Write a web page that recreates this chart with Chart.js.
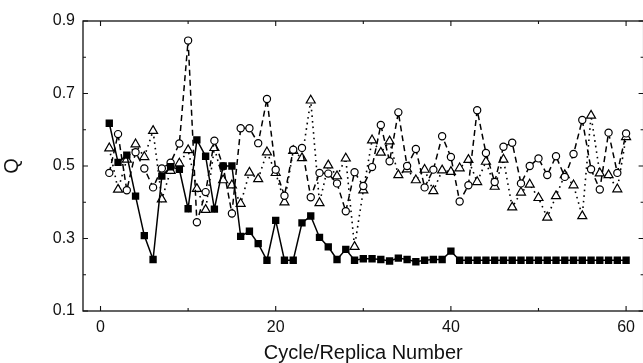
<!DOCTYPE html>
<html>
<head>
<meta charset="utf-8">
<script src="https://cdn.jsdelivr.net/npm/chart.js@4/dist/chart.umd.min.js"></script>
<style>
  html, body { margin: 0; padding: 0; background: #fff; overflow: hidden; }
  #wrap { width: 650px; height: 363px; }
</style>
</head>
<body>
<div id="wrap"><canvas id="Grafico" width="650" height="363"></canvas></div>
<script>
//Numero de ciclo / replica
const ciclos = [1, 2, 3, 4, 5, 6, 7, 8, 9, 10, 11, 12, 13, 14, 15, 16, 17, 18, 19, 20,
  21, 22, 23, 24, 25, 26, 27, 28, 29, 30, 31, 32, 33, 34, 35, 36, 37, 38, 39, 40,
  41, 42, 43, 44, 45, 46, 47, 48, 49, 50, 51, 52, 53, 54, 55, 56, 57, 58, 59, 60];

//Cuadrados rellenos (linea continua)
const qCuadrados = [0.618, 0.510, 0.530, 0.417, 0.308, 0.242, 0.472, 0.498, 0.491, 0.382,
  0.572, 0.527, 0.381, 0.500, 0.500, 0.306, 0.320, 0.286, 0.240, 0.350,
  0.240, 0.240, 0.343, 0.362, 0.303, 0.277, 0.242, 0.270, 0.240, 0.244,
  0.244, 0.242, 0.238, 0.246, 0.242, 0.236, 0.240, 0.242, 0.242, 0.265,
  0.240, 0.240, 0.240, 0.240, 0.240, 0.240, 0.240, 0.240, 0.240, 0.240,
  0.240, 0.240, 0.240, 0.240, 0.240, 0.240, 0.240, 0.240, 0.240, 0.240];

//Circulos abiertos (linea discontinua)
const qCirculos = [0.481, 0.588, 0.433, 0.538, 0.493, 0.441, 0.493, 0.509, 0.562, 0.846,
  0.345, 0.428, 0.570, 0.499, 0.369, 0.604, 0.604, 0.563, 0.685, 0.490,
  0.418, 0.545, 0.550, 0.414, 0.481, 0.479, 0.452, 0.375, 0.483, 0.445,
  0.497, 0.613, 0.513, 0.648, 0.500, 0.547, 0.441, 0.490, 0.582, 0.525,
  0.402, 0.447, 0.654, 0.536, 0.456, 0.553, 0.564, 0.452, 0.500, 0.521,
  0.475, 0.527, 0.470, 0.533, 0.627, 0.491, 0.435, 0.592, 0.481, 0.590];

//Triangulos abiertos (linea de puntos)
const qTriangulos = [0.549, 0.435, 0.518, 0.560, 0.525, 0.597, 0.408, 0.487, 0.507, 0.544,
  0.437, 0.379, 0.550, 0.461, 0.447, 0.396, 0.482, 0.464, 0.538, 0.481,
  0.400, 0.542, 0.522, 0.681, 0.398, 0.502, 0.472, 0.521, 0.277, 0.433,
  0.571, 0.537, 0.568, 0.475, 0.491, 0.461, 0.490, 0.431, 0.488, 0.484,
  0.494, 0.517, 0.456, 0.512, 0.443, 0.518, 0.386, 0.427, 0.449, 0.412,
  0.358, 0.417, 0.475, 0.447, 0.362, 0.639, 0.480, 0.475, 0.436, 0.580];

//Etiquetas de los ejes
const xEtiquetas = [0, 20, 40, 60];
const yEtiquetas = [0.1, 0.3, 0.5, 0.7, 0.9];

function puntos(valores) {
  return ciclos.map((c, i) => ({ x: c, y: valores[i] }));
}

//Marco con marcas hacia dentro en los cuatro lados
const marco = {
  id: 'marco',
  afterDraw(chart) {
    const { ctx, chartArea: a, scales } = chart;
    ctx.save();
    ctx.strokeStyle = '#111';
    ctx.lineWidth = 1.3;
    ctx.strokeRect(a.left, a.top, a.right - a.left, a.bottom - a.top);
    ctx.lineWidth = 1.1;
    ctx.beginPath();
    for (let v = 0; v <= 60; v += 10) {
      const px = scales.x.getPixelForValue(v);
      const len = v % 20 === 0 ? 5 : 3;
      ctx.moveTo(px, a.bottom); ctx.lineTo(px, a.bottom - len);
      ctx.moveTo(px, a.top); ctx.lineTo(px, a.top + len);
    }
    for (let k = 1; k <= 9; k++) {
      const py = scales.y.getPixelForValue(k / 10);
      const len = k % 2 === 1 ? 5 : 3;
      ctx.moveTo(a.left, py); ctx.lineTo(a.left + len, py);
      ctx.moveTo(a.right, py); ctx.lineTo(a.right - len, py);
    }
    ctx.stroke();
    ctx.restore();
  }
};

const contexto = document.getElementById('Grafico').getContext('2d');
const Grafico = new Chart(contexto, {
  type: 'line',
  data: {
    datasets: [{
      label: 'cuadrados',
      data: puntos(qCuadrados),
      borderColor: '#000',
      borderWidth: 1.5,
      pointStyle: 'rect',
      pointRadius: 5.2,
      pointBackgroundColor: '#000',
      pointBorderColor: '#000',
      pointBorderWidth: 0
    }, {
      label: 'circulos',
      data: puntos(qCirculos),
      borderColor: '#000',
      borderWidth: 1.5,
      borderDash: [6, 4],
      pointStyle: 'circle',
      pointRadius: 3.6,
      pointBackgroundColor: '#fff',
      pointBorderColor: '#000',
      pointBorderWidth: 1.2
    }, {
      label: 'triangulos',
      data: puntos(qTriangulos),
      borderColor: '#000',
      borderWidth: 1.6,
      borderDash: [1.6, 4],
      pointStyle: 'triangle',
      pointRadius: 5.2,
      pointBackgroundColor: '#fff',
      pointBorderColor: '#000',
      pointBorderWidth: 1.2
    }]
  },
  options: {
    responsive: false,
    animation: false,
    layout: { padding: { left: 0, right: 4, top: 21, bottom: 0 } },
    plugins: { legend: { display: false }, tooltip: { enabled: false } },
    elements: { line: { tension: 0 } },
    scales: {
      x: {
        type: 'linear',
        min: -2,
        max: 62,
        grid: { display: false, drawTicks: false },
        border: { display: false },
        afterFit: s => { s.height = 52; },
        afterBuildTicks: s => { s.ticks = xEtiquetas.map(v => ({ value: v })); },
        ticks: {
          padding: 7,
          color: '#111',
          font: { family: 'Liberation Sans, Arial, sans-serif', size: 16 },
          maxRotation: 0,
          callback: v => String(v)
        },
        title: {
          display: true,
          text: 'Cycle/Replica Number',
          color: '#111',
          padding: { top: 0, bottom: 0 },
          font: { family: 'Liberation Sans, Arial, sans-serif', size: 20, lineHeight: 1.0 }
        }
      },
      y: {
        min: 0.1,
        max: 0.9,
        grid: { display: false, drawTicks: false },
        border: { display: false },
        afterFit: s => { s.width = 83; },
        afterBuildTicks: s => { s.ticks = yEtiquetas.map(v => ({ value: v })); },
        ticks: {
          padding: 8,
          color: '#111',
          font: { family: 'Liberation Sans, Arial, sans-serif', size: 16 },
          callback: v => v.toFixed(1)
        },
        title: {
          display: true,
          text: 'Q',
          color: '#111',
          padding: { top: 0, bottom: 0 },
          font: { family: 'Liberation Sans, Arial, sans-serif', size: 20 }
        }
      }
    }
  },
  plugins: [marco]
});
</script>
</body>
</html>
